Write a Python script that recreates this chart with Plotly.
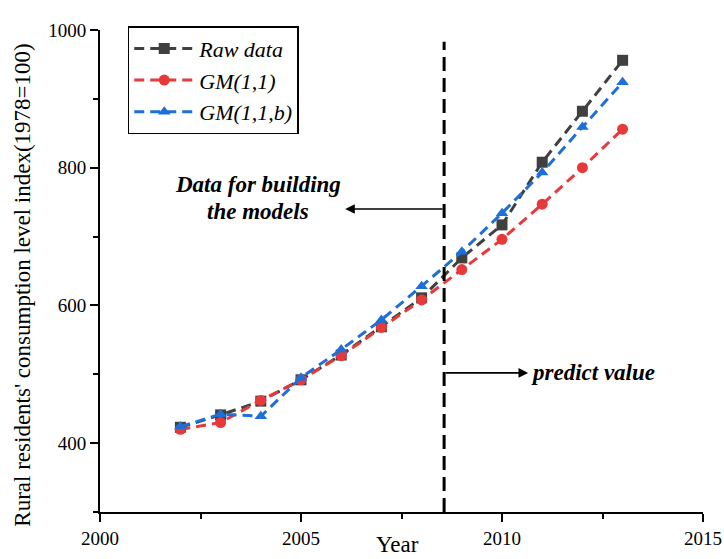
import plotly.graph_objects as go

years = [2002, 2003, 2004, 2005, 2006, 2007, 2008, 2009, 2010, 2011, 2012, 2013]
raw_data = [423, 441, 461, 492, 528, 569, 611, 669, 717, 808, 882, 956]
gm11 = [420, 430, 462, 492, 527, 568, 608, 652, 696, 747, 800, 856]
gm11b = [424, 442, 439, 495, 536, 579, 628, 678, 734, 793, 859, 924]

names = ["Raw data", "GM(1,1)", "GM(1,1,b)"]
colors = ["#404040", "#e8393a", "#1f6fd8"]
symbols = ["square", "circle", "triangle-up"]
series = [raw_data, gm11, gm11b]

FONT = "Liberation Serif"

fig = go.Figure()
for name, vals, col, sym in zip(names, series, colors, symbols):
    fig.add_trace(go.Scatter(
        x=years, y=vals, name=name, mode="lines+markers",
        line=dict(color=col, width=3, dash="10px,6px"),
        marker=dict(color=col, symbol=sym, size=11),
    ))

split_year = 2008.56
fig.add_shape(type="line", x0=split_year, x1=split_year, y0=300, y1=983,
              xref="x", yref="y", line=dict(color="black", width=3, dash="14px,7px"))

# arrows
fig.add_annotation(x=2006.1, y=740, ax=split_year, ay=740, axref="x", ayref="y",
                   xref="x", yref="y", text="", showarrow=True, arrowhead=2,
                   arrowsize=1.2, arrowwidth=1.6, arrowcolor="black")
fig.add_annotation(x=2010.65, y=502, ax=split_year, ay=502, axref="x", ayref="y",
                   xref="x", yref="y", text="", showarrow=True, arrowhead=2,
                   arrowsize=1.2, arrowwidth=1.6, arrowcolor="black")

fig.add_annotation(x=2003.93, y=775, xref="x", yref="y",
                   text="<b><i>Data for building</i></b>",
                   showarrow=False, font=dict(family=FONT, size=23, color="black"))
fig.add_annotation(x=2003.93, y=736, xref="x", yref="y",
                   text="<b><i>the models</i></b>",
                   showarrow=False, font=dict(family=FONT, size=23, color="black"))
fig.add_annotation(x=2010.68, y=502, xref="x", yref="y", xanchor="left",
                   text="<b><i>predict value</i></b>",
                   showarrow=False, font=dict(family=FONT, size=23, color="black"))

fig.add_annotation(x=0.494, y=-0.067, xref="paper", yref="paper",
                   xanchor="center", yanchor="middle",
                   text="Year", showarrow=False,
                   font=dict(family=FONT, size=23, color="black"))
fig.add_annotation(x=-0.129, y=0.47, xref="paper", yref="paper", textangle=-90,
                   xanchor="center", yanchor="middle",
                   text="Rural residents' consumption level index(1978=100)",
                   showarrow=False,
                   font=dict(family=FONT, size=23, color="black"))

fig.update_layout(
    width=724, height=559,
    margin=dict(l=100, r=21, t=30, b=47),
    plot_bgcolor="white", paper_bgcolor="white",
    font=dict(family=FONT, size=19, color="black"),
    showlegend=True,
    legend=dict(x=0.046, y=1.008, xanchor="left", yanchor="top",
                bordercolor="black", borderwidth=1.5, bgcolor="white",
                font=dict(family=FONT, size=22, style="italic"),
                tracegroupgap=0, itemwidth=60),
)
fig.update_xaxes(range=[2000, 2015], tick0=2000, dtick=5, showgrid=False, zeroline=False,
                 automargin=False,
                 showline=True, linecolor="black", linewidth=2,
                 ticks="outside", ticklen=8, tickwidth=2, tickcolor="black",
                 minor=dict(dtick=2.5, tick0=2000, ticks="outside", ticklen=5,
                            tickwidth=2, tickcolor="black", showgrid=False),
                 tickfont=dict(family=FONT, size=19))
fig.update_yaxes(range=[300, 1000], tick0=400, dtick=200, showgrid=False, zeroline=False,
                 automargin=False,
                 showline=True, linecolor="black", linewidth=2,
                 ticks="outside", ticklen=8, tickwidth=2, tickcolor="black",
                 minor=dict(dtick=100, tick0=300, ticks="outside", ticklen=5,
                            tickwidth=2, tickcolor="black", showgrid=False),
                 tickfont=dict(family=FONT, size=19))

fig.write_html("out.html", config=dict(displayModeBar=False),
               post_script="document.body.style.margin='0';document.body.style.overflow='hidden';")
